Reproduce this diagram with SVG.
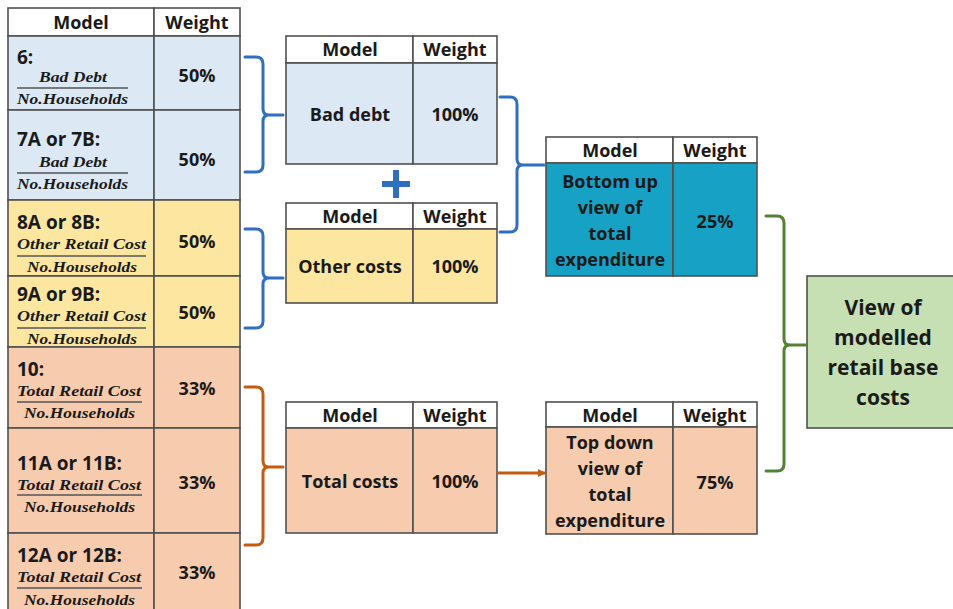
<svg xmlns="http://www.w3.org/2000/svg" width="953" height="609" viewBox="0 0 953 609">
<style>
.b{stroke:#505050;stroke-width:1.6}
.hd{fill:#ffffff}
.blue{fill:#dce8f4}
.yel{fill:#fde7a0}
.ora{fill:#f7cbae}
.teal{fill:#17a1c4}
.grn{fill:#c6e0b4}
.t{font-family:"Open Sans","Liberation Sans",sans-serif;font-weight:700;fill:#1a1a1a}
.h{font-size:18px;text-anchor:middle}
.lab{font-size:19px}
.c{font-size:18px;text-anchor:middle}
.g{font-size:21px;text-anchor:middle}
.f{font-family:"Liberation Serif","DejaVu Serif",serif;font-weight:700;font-style:italic;font-size:15px;fill:#1a1a1a}
.fl{stroke:#555;stroke-width:1.6}
.br{fill:none;stroke-width:3;stroke-linecap:round;stroke-linejoin:round}
</style>
<defs>
<marker id="ah" markerWidth="8" markerHeight="8" refX="7" refY="4" orient="auto" markerUnits="userSpaceOnUse" viewBox="0 0 8 8">
<path d="M0,0 L8,4 L0,8 Z" fill="#c55a11"/>
</marker>
</defs>
<rect width="953" height="609" fill="#ffffff"/>

<g id="left-table">
<rect class="b hd" x="8" y="8" width="146" height="28"/>
<rect class="b hd" x="154" y="8" width="86" height="28"/>
<text class="t h" x="81" y="29">Model</text>
<text class="t h" x="197" y="29">Weight</text>

<rect class="b blue" x="8" y="36" width="146" height="74"/>
<rect class="b blue" x="154" y="36" width="86" height="74"/>
<text class="t lab" x="17" y="64">6:</text>
<text class="f" x="73" y="82" text-anchor="middle" textLength="68" lengthAdjust="spacingAndGlyphs">Bad Debt</text>
<line class="fl" x1="17" y1="88" x2="128" y2="88"/>
<text class="f" x="17" y="104" textLength="111" lengthAdjust="spacingAndGlyphs">No.Households</text>
<text class="t c" x="197" y="82">50%</text>

<rect class="b blue" x="8" y="110" width="146" height="90"/>
<rect class="b blue" x="154" y="110" width="86" height="90"/>
<text class="t lab" x="17" y="146">7A or 7B:</text>
<text class="f" x="73" y="167" text-anchor="middle" textLength="68" lengthAdjust="spacingAndGlyphs">Bad Debt</text>
<line class="fl" x1="17" y1="173" x2="128" y2="173"/>
<text class="f" x="17" y="189" textLength="111" lengthAdjust="spacingAndGlyphs">No.Households</text>
<text class="t c" x="197" y="166">50%</text>

<rect class="b yel" x="8" y="200" width="146" height="76"/>
<rect class="b yel" x="154" y="200" width="86" height="76"/>
<text class="t lab" x="17" y="229">8A or 8B:</text>
<text class="f" x="17" y="249" textLength="129" lengthAdjust="spacingAndGlyphs">Other Retail Cost</text>
<line class="fl" x1="17" y1="256" x2="146" y2="256"/>
<text class="f" x="27" y="272" textLength="110" lengthAdjust="spacingAndGlyphs">No.Households</text>
<text class="t c" x="197" y="248">50%</text>

<rect class="b yel" x="8" y="276" width="146" height="71"/>
<rect class="b yel" x="154" y="276" width="86" height="71"/>
<text class="t lab" x="17" y="301">9A or 9B:</text>
<text class="f" x="17" y="321" textLength="129" lengthAdjust="spacingAndGlyphs">Other Retail Cost</text>
<line class="fl" x1="17" y1="328" x2="146" y2="328"/>
<text class="f" x="27" y="344" textLength="110" lengthAdjust="spacingAndGlyphs">No.Households</text>
<text class="t c" x="197" y="319">50%</text>

<rect class="b ora" x="8" y="347" width="146" height="81"/>
<rect class="b ora" x="154" y="347" width="86" height="81"/>
<text class="t lab" x="17" y="376">10:</text>
<text class="f" x="17" y="396" textLength="124" lengthAdjust="spacingAndGlyphs">Total Retail Cost</text>
<line class="fl" x1="17" y1="402" x2="142" y2="402"/>
<text class="f" x="24" y="418" textLength="111" lengthAdjust="spacingAndGlyphs">No.Households</text>
<text class="t c" x="197" y="395">33%</text>

<rect class="b ora" x="8" y="428" width="146" height="105"/>
<rect class="b ora" x="154" y="428" width="86" height="105"/>
<text class="t lab" x="17" y="470">11A or 11B:</text>
<text class="f" x="17" y="490" textLength="124" lengthAdjust="spacingAndGlyphs">Total Retail Cost</text>
<line class="fl" x1="17" y1="495" x2="142" y2="495"/>
<text class="f" x="24" y="512" textLength="111" lengthAdjust="spacingAndGlyphs">No.Households</text>
<text class="t c" x="197" y="489">33%</text>

<rect class="b ora" x="8" y="533" width="146" height="80"/>
<rect class="b ora" x="154" y="533" width="86" height="80"/>
<text class="t lab" x="17" y="562">12A or 12B:</text>
<text class="f" x="17" y="582" textLength="124" lengthAdjust="spacingAndGlyphs">Total Retail Cost</text>
<line class="fl" x1="17" y1="588" x2="142" y2="588"/>
<text class="f" x="24" y="605" textLength="111" lengthAdjust="spacingAndGlyphs">No.Households</text>
<text class="t c" x="197" y="579">33%</text>
</g>

<g id="bad-debt">
<rect class="b hd" x="286" y="36" width="127" height="27"/>
<rect class="b hd" x="413" y="36" width="84" height="27"/>
<text class="t h" x="350" y="56">Model</text>
<text class="t h" x="455" y="56">Weight</text>
<rect class="b blue" x="286" y="63" width="127" height="101"/>
<rect class="b blue" x="413" y="63" width="84" height="101"/>
<text class="t c" x="350" y="121">Bad debt</text>
<text class="t c" x="455" y="121">100%</text>
</g>

<g id="plus">
<rect x="382" y="181" width="28" height="6" fill="#2e6fc0"/>
<rect x="393" y="170" width="6" height="28" fill="#2e6fc0"/>
</g>

<g id="other-costs">
<rect class="b hd" x="286" y="203" width="127" height="26"/>
<rect class="b hd" x="413" y="203" width="84" height="26"/>
<text class="t h" x="350" y="223">Model</text>
<text class="t h" x="455" y="223">Weight</text>
<rect class="b yel" x="286" y="229" width="127" height="74"/>
<rect class="b yel" x="413" y="229" width="84" height="74"/>
<text class="t c" x="350" y="273">Other costs</text>
<text class="t c" x="455" y="273">100%</text>
</g>

<g id="total-costs">
<rect class="b hd" x="286" y="402" width="127" height="26"/>
<rect class="b hd" x="413" y="402" width="84" height="26"/>
<text class="t h" x="350" y="422">Model</text>
<text class="t h" x="455" y="422">Weight</text>
<rect class="b ora" x="286" y="428" width="127" height="105"/>
<rect class="b ora" x="413" y="428" width="84" height="105"/>
<text class="t c" x="350" y="488">Total costs</text>
<text class="t c" x="455" y="488">100%</text>
</g>

<g id="bottom-up">
<rect class="b hd" x="546" y="137" width="127" height="26"/>
<rect class="b hd" x="673" y="137" width="84" height="26"/>
<text class="t h" x="610" y="157">Model</text>
<text class="t h" x="715" y="157">Weight</text>
<rect class="b teal" x="546" y="163" width="127" height="113"/>
<rect class="b teal" x="673" y="163" width="84" height="113"/>
<text class="t c" x="610" y="188">Bottom up</text>
<text class="t c" x="610" y="214">view of</text>
<text class="t c" x="610" y="240">total</text>
<text class="t c" x="610" y="266">expenditure</text>
<text class="t c" x="715" y="228">25%</text>
</g>

<g id="top-down">
<rect class="b hd" x="546" y="402" width="127" height="25"/>
<rect class="b hd" x="673" y="402" width="84" height="25"/>
<text class="t h" x="610" y="422">Model</text>
<text class="t h" x="715" y="422">Weight</text>
<rect class="b ora" x="546" y="427" width="127" height="107"/>
<rect class="b ora" x="673" y="427" width="84" height="107"/>
<text class="t c" x="610" y="449">Top down</text>
<text class="t c" x="610" y="475">view of</text>
<text class="t c" x="610" y="501">total</text>
<text class="t c" x="610" y="527">expenditure</text>
<text class="t c" x="715" y="489">75%</text>
</g>

<g id="result">
<rect class="b grn" x="807" y="276" width="150" height="152"/>
<text class="t g" x="883" y="315">View of</text>
<text class="t g" x="883" y="345">modelled</text>
<text class="t g" x="883" y="375">retail base</text>
<text class="t g" x="883" y="405">costs</text>
</g>

<g id="connectors">
<path class="br" stroke="#2e6fc0" d="M245,57 H256 Q263,57 263,64 V109 Q263,115 269,115 H283 M269,115 Q263,115 263,121 V165 Q263,172 256,172 H245"/>
<path class="br" stroke="#2e6fc0" d="M245,229 H256 Q263,229 263,236 V272 Q263,278 269,278 H283 M269,278 Q263,278 263,284 V321 Q263,328 256,328 H245"/>
<path class="br" stroke="#2e6fc0" d="M500,97 H510 Q517,97 517,104 V159 Q517,165 523,165 H544 M523,165 Q517,165 517,171 V225 Q517,232 510,232 H500"/>
<path class="br" stroke="#c55a11" d="M245,387 H256 Q263,387 263,394 V461 Q263,467 269,467 H283 M269,467 Q263,467 263,473 V538 Q263,545 256,545 H245"/>
<path class="br" stroke="#548235" d="M766,216 H777 Q784,216 784,223 V339 Q784,345 790,345 H806 M790,345 Q784,345 784,351 V464 Q784,471 777,471 H766"/>
<line x1="498" y1="473" x2="545" y2="473" stroke="#c55a11" stroke-width="3" marker-end="url(#ah)"/>
</g>
</svg>
